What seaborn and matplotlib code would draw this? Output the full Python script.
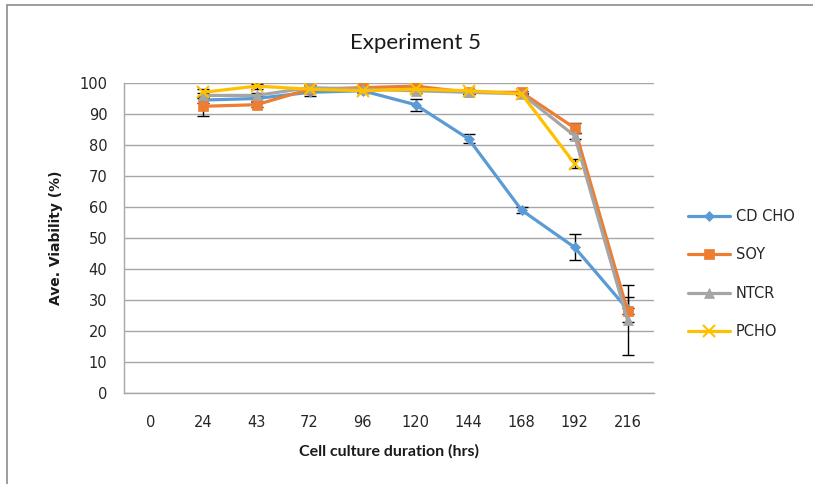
import numpy as np
import pandas as pd
import matplotlib
matplotlib.use("Agg")
import matplotlib.pyplot as plt
import seaborn as sns
from matplotlib.lines import Line2D
from matplotlib.patches import Rectangle

# Office-style palette
BLUE = "#5B9BD5"
ORANGE = "#ED7D31"
GREY = "#A5A5A5"
YELLOW = "#FFC000"

hours = ["0", "24", "43", "72", "96", "120", "144", "168", "192", "216"]

cd_cho = [np.nan, 94.5, 95, 97, 97.5, 93, 82, 59, 47, 27]
soy = [np.nan, 92.5, 93, 98, 98.5, 99, 97, 97, 85.5, 26.5]
ntcr = [np.nan, 96, 96, 98.5, 98, 97.5, 97, 96.5, 83, 23.5]
pcho = [np.nan, 97, 99, 98, 97.5, 98, 97.5, 96.5, 74, np.nan]

cd_cho_err = [np.nan, 0.8, 0.8, 1.2, 0.6, 2, 1.5, 1, 4.2, 4]
soy_err = [np.nan, 3, 0.8, 0.6, 0.4, 0.4, 0.6, 0.4, 1.5, 1]
ntcr_err = [np.nan, 0.8, 0.8, 1, 0.4, 0.8, 0.4, 0.4, 1, 11.3]
pcho_err = [np.nan, 1.2, 0.8, 0.6, 0.4, 0.4, 0.4, 0.4, 1.5, np.nan]

series = ["CD CHO", "SOY", "NTCR", "PCHO"]
values = [cd_cho, soy, ntcr, pcho]
errors = [cd_cho_err, soy_err, ntcr_err, pcho_err]
colors = [BLUE, ORANGE, GREY, YELLOW]
markers = ["D", "s", "^", "x"]
msizes = [5, 7.5, 7, 8]

sns.set_style("white")
plt.rcParams["font.family"] = ["DejaVu Sans"]

fig = plt.figure(figsize=(8.13, 4.84), dpi=100)
ax = fig.add_axes([0.1525, 0.188, 0.652, 0.6405])

pos = np.arange(len(hours))
rows = []
for name, vals in zip(series, values):
    for p, v in zip(pos, vals):
        rows.append({"pos": p, "viability": v, "medium": name})
df = pd.DataFrame(rows).dropna()

for name, vals, errs, c, m, ms in zip(series, values, errors, colors, markers, msizes):
    sub = df[df["medium"] == name]
    sns.lineplot(data=sub, x="pos", y="viability", color=c, lw=2.3, ax=ax,
                 marker=m, markersize=ms, markeredgecolor=c,
                 markeredgewidth=1.5 if m == "x" else 0.5, zorder=3)
    ax.errorbar(pos, vals, yerr=errs, fmt="none", ecolor="black",
                elinewidth=1, capsize=4, capthick=1, zorder=2.5)

ax.set_xlim(-0.5, len(hours) - 0.5)
ax.set_ylim(0, 100)
ax.set_yticks(np.arange(0, 101, 10))
ax.set_xticks(pos)
ax.set_xticklabels(hours)
ax.set_xticks(np.arange(-0.5, len(hours), 1), minor=True)
ax.yaxis.grid(True, color="#A6A6A6", lw=1)
ax.set_axisbelow(True)
for s in ["top", "right"]:
    ax.spines[s].set_visible(False)
for s in ["left", "bottom"]:
    ax.spines[s].set_color("#A6A6A6")
    ax.spines[s].set_linewidth(1)
ax.tick_params(axis="x", which="major", length=0, pad=16, labelsize=10.5)
ax.tick_params(axis="x", which="minor", length=5, color="#A6A6A6", direction="out")
ax.tick_params(axis="y", length=5, color="#A6A6A6", direction="out", pad=7,
               labelsize=10.5)
for t in ax.get_xticklabels() + ax.get_yticklabels():
    t.set_color("#262626")

ax.set_xlabel("Cell culture duration (hrs)", fontsize=11.5, fontweight="bold",
              family=["Lato", "DejaVu Sans"], labelpad=10, color="#1a1a1a")
ax.set_ylabel("Ave. Viability (%)", fontsize=10, fontweight="bold", labelpad=12,
              color="#1a1a1a")
fig.text(0.511, 0.912, "Experiment 5", ha="center", va="center", fontsize=16,
         family=["Lato", "DejaVu Sans"], color="#1a1a1a")

handles = [Line2D([], [], color=c, lw=2.3, marker=m, markersize=ms, markeredgecolor=c,
                  markeredgewidth=1.5 if m == "x" else 0.5)
           for c, m, ms in zip(colors, markers, msizes)]
fig.legend(handles, series, loc="upper left", bbox_to_anchor=(0.830, 0.595),
           frameon=False, handlelength=2.9, labelspacing=1.6,
           handletextpad=0.4, prop={"family": ["DejaVu Sans"], "size": 10.5})

# outer chart border (left and top edges visible)
fig.patches.append(Rectangle((0.0086, -0.05), 1.2, 1.04, transform=fig.transFigure,
                             fill=False, edgecolor="#8C8C8C", lw=1.2))

fig.savefig("out.png", dpi=100)
